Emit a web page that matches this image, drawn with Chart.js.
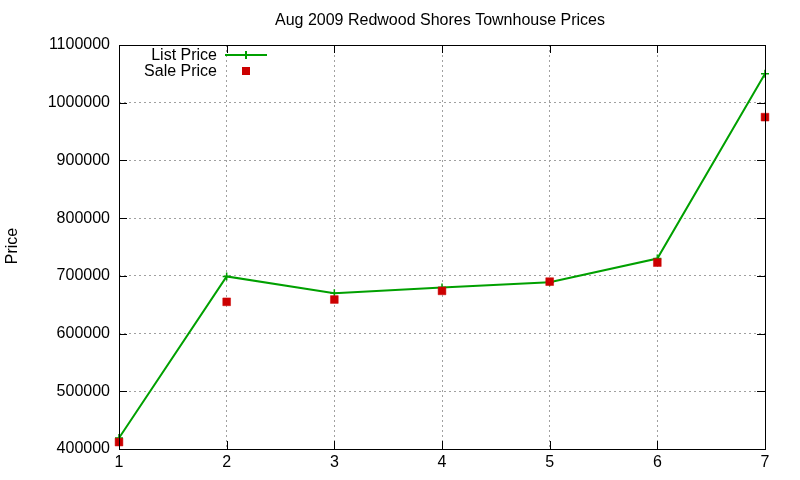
<!DOCTYPE html>
<html>
<head>
<meta charset="utf-8">
<script src="https://cdn.jsdelivr.net/npm/chart.js@4"></script>
<style>
  html, body { margin: 0; padding: 0; background: #fff; }
  #wrap { width: 800px; height: 480px; }
</style>
</head>
<body>
<div id="wrap"><canvas id="priceChart" width="800" height="480"></canvas></div>
<script>
const houses = [1, 2, 3, 4, 5, 6, 7];
const listPrices = [419000, 699000, 670000, 680000, 689000, 730000, 1050000];
const salePrices = [412000, 655000, 659000, 674000, 690000, 723000, 975000];
const yTicks = [400000, 500000, 600000, 700000, 800000, 900000, 1000000, 1100000];

const FONT = 'Liberation Sans, Arial, sans-serif';

// gnuplot look: black frame, inward ticks on all sides, title, y label, legend
const gnuplotFrame = {
  id: 'gnuplotFrame',
  afterDatasetsDraw(chart) {
    const { ctx, chartArea: a, scales } = chart;
    ctx.save();
    ctx.strokeStyle = '#000';
    ctx.lineWidth = 1;
    ctx.beginPath();
    yTicks.forEach(v => {
      const y = Math.round(scales.y.getPixelForValue(v)) + 0.5;
      ctx.moveTo(a.left, y); ctx.lineTo(a.left + 8, y);
      ctx.moveTo(a.right, y); ctx.lineTo(a.right - 8, y);
    });
    houses.forEach(v => {
      const x = Math.round(scales.x.getPixelForValue(v)) + 0.5;
      ctx.moveTo(x, a.bottom); ctx.lineTo(x, a.bottom - 8);
      ctx.moveTo(x, a.top); ctx.lineTo(x, a.top + 8);
    });
    ctx.stroke();
    ctx.strokeRect(Math.round(a.left) + 0.5, Math.round(a.top) + 0.5,
                   Math.round(a.right - a.left), Math.round(a.bottom - a.top));

    ctx.fillStyle = '#000';
    ctx.font = '16px ' + FONT;
    ctx.textAlign = 'center';
    ctx.textBaseline = 'middle';
    ctx.fillText('Aug 2009 Redwood Shores Townhouse Prices', 440, 21);

    ctx.save();
    ctx.translate(13, 246);
    ctx.rotate(-Math.PI / 2);
    ctx.fillText('Price', 0, 0);
    ctx.restore();

    // key
    ctx.textAlign = 'right';
    ctx.fillText('List Price', 217, 56);
    ctx.fillText('Sale Price', 217, 72);
    ctx.strokeStyle = '#00a000';
    ctx.lineWidth = 2;
    ctx.beginPath();
    ctx.moveTo(225, 55); ctx.lineTo(267, 55);
    ctx.moveTo(246, 51); ctx.lineTo(246, 59);
    ctx.stroke();
    ctx.fillStyle = '#cc0000';
    ctx.fillRect(242, 67, 8, 8);
    ctx.restore();
  }
};

new Chart(document.getElementById('priceChart'), {
  type: 'line',
  data: {
    datasets: [
      {
        label: 'List Price',
        data: houses.map((h, i) => ({ x: h, y: listPrices[i] })),
        borderColor: '#00a000',
        backgroundColor: '#00a000',
        borderWidth: 2,
        pointStyle: 'cross',
        pointRadius: 4,
        pointBorderWidth: 1.5,
        tension: 0,
        order: 2
      },
      {
        label: 'Sale Price',
        data: houses.map((h, i) => ({ x: h, y: salePrices[i] })),
        showLine: false,
        borderColor: '#cc0000',
        backgroundColor: '#cc0000',
        pointStyle: 'rect',
        pointRadius: 5.5,
        pointBorderWidth: 0.5,
        order: 1
      }
    ]
  },
  options: {
    responsive: false,
    animation: false,
    clip: false,
    layout: { padding: { top: 45, right: 35, left: 0, bottom: 0 } },
    plugins: {
      legend: { display: false },
      title: { display: false },
      tooltip: { enabled: false }
    },
    scales: {
      x: {
        type: 'linear',
        min: 1,
        max: 7,
        ticks: { stepSize: 1, color: '#000', font: { family: FONT, size: 16 }, padding: 4 },
        grid: { color: '#a0a0a0', lineWidth: 1, drawTicks: false },
        border: { display: false, dash: [2, 3] },
        afterFit(scale) { scale.height = 31; }
      },
      y: {
        min: 400000,
        max: 1100000,
        ticks: {
          stepSize: 100000, color: '#000', font: { family: FONT, size: 16 }, padding: 9,
          callback: v => String(v)
        },
        grid: { color: '#a0a0a0', lineWidth: 1, drawTicks: false },
        border: { display: false, dash: [2, 3] },
        afterFit(scale) { scale.width = 119; }
      }
    }
  },
  plugins: [gnuplotFrame]
});
</script>
</body>
</html>
